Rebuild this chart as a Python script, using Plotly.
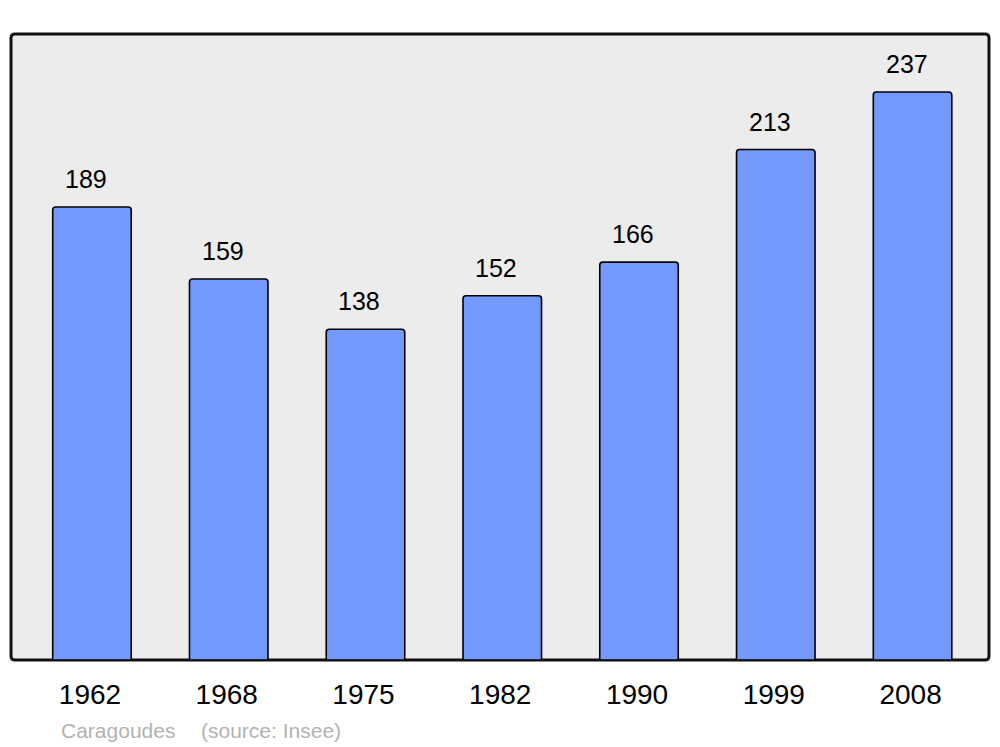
import plotly.graph_objects as go

years = ["1962", "1968", "1975", "1982", "1990", "1999", "2008"]
population = [189, 159, 138, 152, 166, 213, 237]

# page body has an 8px margin; figure is placed at (8, 8)
W, H = 992, 739
L, R, T, B = 3, 11, 26, 87
pw = W - L - R
ph = H - T - B

positions = list(range(len(years)))
FONT = "Liberation Sans, Arial, sans-serif"

fig = go.Figure()
fig.add_trace(go.Bar(
    x=positions, y=population,
    width=0.574,
    marker=dict(color="#7399ff", line=dict(color="#000000", width=1.6), cornerradius=3),
    hoverinfo="skip",
))

for xi, v in zip(positions, population):
    fig.add_annotation(x=xi, y=v, text=str(v), showarrow=False,
                       xanchor="center", yanchor="middle", xshift=-6, yshift=28,
                       font=dict(family=FONT, size=25, color="#000000"))

src_y = -(722 - (T + ph)) / ph
fig.add_annotation(xref="paper", yref="paper", x=(51 - L) / pw, y=src_y,
                   text="Caragoudes", showarrow=False, xanchor="left", yanchor="middle",
                   font=dict(family=FONT, size=21, color="#b3b3b3"))
fig.add_annotation(xref="paper", yref="paper", x=(191 - L) / pw, y=src_y,
                   text="(source: Insee)", showarrow=False, xanchor="left", yanchor="middle",
                   font=dict(family=FONT, size=21, color="#b3b3b3"))

# frame with rounded corners
r = 4 / pw
ry = 4 / ph
fig.add_shape(type="path", xref="paper", yref="paper", layer="below",
              path=(f"M {r} 0 L {1 - r} 0 Q 1 0 1 {ry} L 1 {1 - ry} Q 1 1 {1 - r} 1 "
                    f"L {r} 1 Q 0 1 0 {1 - ry} L 0 {ry} Q 0 0 {r} 0 Z"),
              fillcolor="#ececec", line=dict(color="#111111", width=3))

fig.update_layout(
    width=W, height=H,
    margin=dict(l=L, r=R, t=T, b=B),
    paper_bgcolor="#ffffff", plot_bgcolor="rgba(0,0,0,0)",
    showlegend=False,
    xaxis=dict(range=[-0.592, 6.559], tickmode="array", tickvals=positions, ticktext=years,
               showgrid=False, zeroline=False, showline=False, ticks="",
               ticklabelstandoff=15, ticklabelshift=-2, fixedrange=True,
               tickfont=dict(family=FONT, size=28, color="#000000")),
    yaxis=dict(range=[0, 261.2], showgrid=False, zeroline=False, showline=False,
               showticklabels=False, ticks="", fixedrange=True),
)

fig.write_html("out.html", config={"displayModeBar": False})
